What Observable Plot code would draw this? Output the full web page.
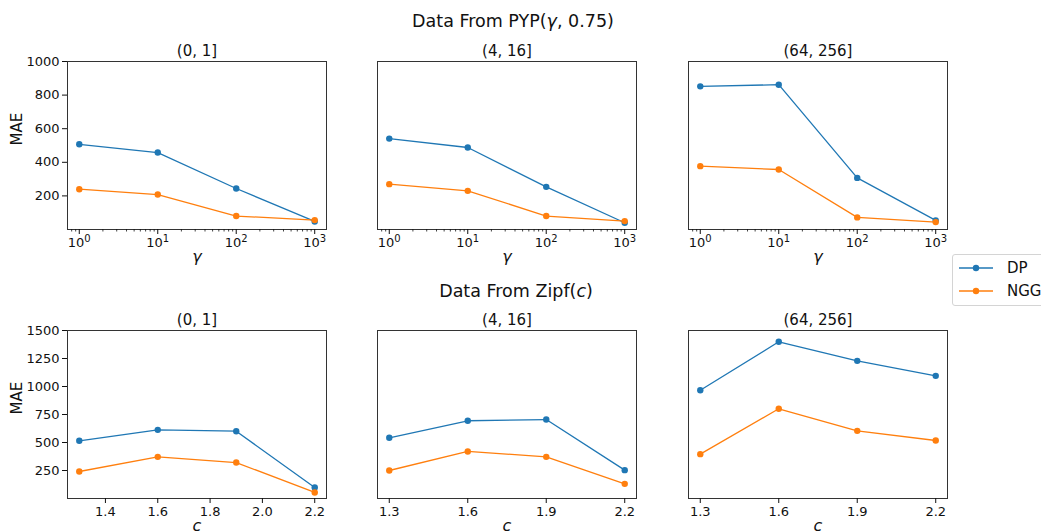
<!DOCTYPE html>
<html>
<head>
<meta charset="utf-8">
<script src="https://cdn.jsdelivr.net/npm/d3@7"></script>
<script src="https://cdn.jsdelivr.net/npm/@observablehq/plot@0.6"></script>
<style>
  body { margin: 0; background: white; font-family: "DejaVu Sans", sans-serif; }
  #root { position: relative; width: 1041px; height: 531px; overflow: hidden; }
  .sup { position: absolute; font-size: 17.5px; color: #111; transform: translateX(-50%); white-space: nowrap; line-height: 20px; }
  .legend { position: absolute; left: 952px; top: 254px; width: 100px; height: 50px; border: 1px solid #d4d4d4; border-radius: 3px; background: white; }
  .legend .row { position: absolute; left: 4px; height: 20px; display: flex; align-items: center; font-size: 15px; color: #111; }
</style>
</head>
<body>
<div id="root"></div>
<script>
// ---- data ----
const bins = ["(0, 1]", "(4, 16]", "(64, 256]"];
const series = ["DP", "NGG"];
const seriesColors = ["#1f77b4", "#ff7f0e"];

const gammaValues = [1, 10, 100, 1000];
const pypDP  = [[507, 458, 244, 48], [541, 488, 254, 40], [852, 862, 307, 54]];
const pypNGG = [[240, 208, 80, 56],  [270, 230, 80, 50],  [377, 357, 72, 44]];

const zipfC = [1.3, 1.6, 1.9, 2.2];
const zipfDP  = [[515, 613, 601, 98], [542, 694, 705, 253], [967, 1399, 1229, 1095]];
const zipfNGG = [[241, 372, 321, 54], [250, 420, 372, 131], [396, 801, 604, 518]];

const pypYTicks = [200, 400, 600, 800, 1000];
const zipfYTicks = [250, 500, 750, 1000, 1250, 1500];
const gammaTicks = [1, 10, 100, 1000];
const zipfXTicksFirst = [1.4, 1.6, 1.8, 2.0, 2.2];
const zipfXTicksOther = [1.3, 1.6, 1.9, 2.2];

// ---- layout ----
const root = document.getElementById("root");
const W = 259, H = 168;
const frameLefts = [67, 377, 688];
const frameTops = [61, 330];

const minorTicks = [];
for (let k = -1; k <= 3; k++) for (let m = 2; m <= 9; m++) {
  const v = m * Math.pow(10, k);
  if (v > 0.708 && v < 1413) minorTicks.push(v);
}

function panel(opts) {
  const ml = opts.showY ? 67 : 30, mr = 10, mt = 30, mb = 42;
  const rows = [];
  opts.xs.forEach((x, i) => rows.push({x, y: opts.dp[i], s: "DP"}));
  opts.xs.forEach((x, i) => rows.push({x, y: opts.ngg[i], s: "NGG"}));
  const marks = [Plot.frame({stroke: "#333", strokeWidth: 1})];
  if (opts.minor) {
    marks.push(Plot.axisX({ticks: minorTicks, tickSize: 2.5, tickFormat: () => "", label: null, strokeWidth: 0.8}));
  }
  marks.push(Plot.axisX({ticks: opts.xTicks, tickSize: 5, tickPadding: 3, tickFormat: opts.xFormat, label: null}));
  if (opts.showY) {
    marks.push(Plot.axisY({ticks: opts.yTicks, tickSize: 5, tickPadding: 3, tickFormat: d => String(d), label: null}));
    marks.push(Plot.text(["MAE"], {text: d => d, frameAnchor: "left", dx: -50, rotate: -90, fontSize: 15, fill: "#111"}));
  } else {
    marks.push(Plot.axisY({ticks: [], label: null}));
  }
  series.forEach((s, si) => {
    const sub = rows.filter(r => r.s === s);
    marks.push(Plot.line(sub, {x: "x", y: "y", stroke: seriesColors[si], strokeWidth: 1.3}));
    marks.push(Plot.dot(sub, {x: "x", y: "y", fill: seriesColors[si], r: 3.2}));
  });
  marks.push(Plot.text([opts.title], {text: d => d, frameAnchor: "top", dy: -6, lineAnchor: "bottom", fontSize: 15, fill: "#111"}));
  marks.push(Plot.text([opts.xLabel], {text: d => d, frameAnchor: "bottom", dy: 21, lineAnchor: "top", fontSize: 16, fontStyle: "italic", fill: "#111"}));

  const svg = Plot.plot({
    width: W + ml + mr,
    height: H + mt + mb,
    marginLeft: ml, marginRight: mr, marginTop: mt, marginBottom: mb,
    x: {type: opts.xType, domain: opts.xDomain},
    y: {domain: opts.yDomain},
    style: {fontFamily: "DejaVu Sans, sans-serif", fontSize: "13px", color: "#111", background: "transparent", overflow: "visible"},
    marks
  });
  // render 10^k tick labels with a real superscript
  svg.querySelectorAll("text").forEach(t => {
    const m = /^10\^(\d)$/.exec(t.textContent);
    if (m) {
      t.textContent = "10";
      const ts = document.createElementNS("http://www.w3.org/2000/svg", "tspan");
      ts.setAttribute("dy", "-0.45em");
      ts.setAttribute("font-size", "10px");
      ts.textContent = m[1];
      t.appendChild(ts);
    }
  });
  svg.style.position = "absolute";
  svg.style.left = (opts.left - ml) + "px";
  svg.style.top = (opts.top - mt) + "px";
  root.appendChild(svg);
}

// top row: PYP
bins.forEach((b, i) => {
  panel({
    left: frameLefts[i], top: frameTops[0],
    xType: "log", xDomain: [0.708, 1413], xTicks: gammaTicks,
    xFormat: d => "10^" + Math.round(Math.log10(d)),
    minor: true,
    yDomain: [0, 1000], yTicks: pypYTicks, showY: i === 0,
    title: b, xLabel: "γ",
    xs: gammaValues, dp: pypDP[i], ngg: pypNGG[i]
  });
});

// bottom row: Zipf
bins.forEach((b, i) => {
  panel({
    left: frameLefts[i], top: frameTops[1],
    xType: "linear", xDomain: [1.255, 2.245],
    xTicks: i === 0 ? zipfXTicksFirst : zipfXTicksOther,
    xFormat: d => d.toFixed(1),
    minor: false,
    yDomain: [0, 1500], yTicks: zipfYTicks, showY: i === 0,
    title: b, xLabel: "c",
    xs: zipfC, dp: zipfDP[i], ngg: zipfNGG[i]
  });
});

// super titles
const t1 = document.createElement("div");
t1.className = "sup"; t1.style.left = "513px"; t1.style.top = "11px";
t1.innerHTML = "Data From PYP(<i>γ</i>, 0.75)";
root.appendChild(t1);
const t2 = document.createElement("div");
t2.className = "sup"; t2.style.left = "516px"; t2.style.top = "281px";
t2.innerHTML = "Data From Zipf(<i>c</i>)";
root.appendChild(t2);

// legend
const lg = document.createElement("div");
lg.className = "legend";
series.forEach((s, si) => {
  const row = document.createElement("div");
  row.className = "row";
  row.style.top = (3 + si * 23) + "px";
  row.innerHTML = `<svg width="40" height="20" style="margin-right:10px"><line x1="2" x2="36" y1="10" y2="10" stroke="${seriesColors[si]}" stroke-width="1.5"/><circle cx="19" cy="10" r="3.2" fill="${seriesColors[si]}"/></svg><span>${s}</span>`;
  lg.appendChild(row);
});
root.appendChild(lg);
</script>
</body>
</html>
